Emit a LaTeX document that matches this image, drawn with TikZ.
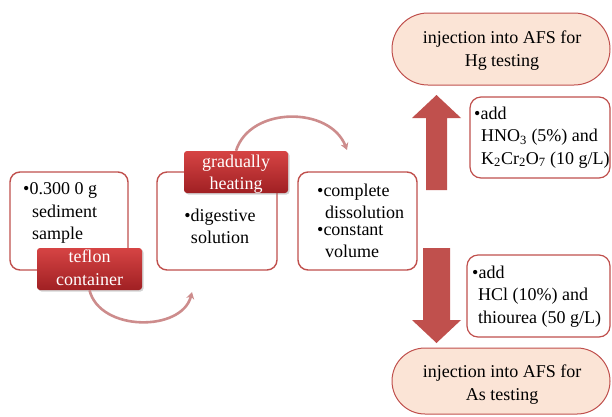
\documentclass[tikz,border=0pt]{standalone}
\usepackage{fontspec}
\setmainfont{Liberation Serif}
\usetikzlibrary{shadows,arrows.meta}
\definecolor{boxred}{RGB}{192,80,77}
\definecolor{peach}{RGB}{251,228,214}
\definecolor{labtop}{RGB}{214,68,68}
\definecolor{labbot}{RGB}{160,32,35}
\definecolor{curvecol}{RGB}{205,140,140}
\tikzset{
  stepbox/.style={draw=boxred, line width=1.4pt, fill=white, rounded corners=10pt, inner sep=0pt},
  notebox/.style={draw=boxred, line width=1.2pt, fill=white, rounded corners=11pt, inner sep=0pt},
  pill/.style={draw=boxred, line width=1pt, fill=peach, rounded corners=33pt, inner sep=0pt},
  labelbox/.style={top color=labtop, bottom color=labbot, draw=none, rounded corners=3pt, inner sep=0pt,
     drop shadow={opacity=0.35, shadow xshift=1.5pt, shadow yshift=-1.5pt}},
  txt/.style={inner sep=0pt, font=\fontsize{18}{22.5}\selectfont},
  wtxt/.style={txt, text=white},
  blockarrow/.style={fill=boxred, draw=none},
  curved/.style={draw=curvecol, line width=2.6pt, -{Stealth[length=7pt,width=8pt]}}
}
\begin{document}
\begin{tikzpicture}[x=1pt,y=-1pt]
\useasboundingbox (0,0) rectangle (612,416);
% step boxes
\node[stepbox, minimum width=118pt, minimum height=98pt] (b1) at (69,221) {};
\node[stepbox, minimum width=120pt, minimum height=98pt] (b2) at (217,221) {};
\node[stepbox, minimum width=119pt, minimum height=98pt] (b3) at (357.5,221) {};
\node[txt, anchor=north west, align=left] (t1) at (23,182.7) {•0.300 0 g\\\hspace*{9pt}sediment\\\hspace*{9pt}sample};
\node[txt, anchor=north, align=center] (t2) at (220,208.7) {•digestive\\solution};
\node[txt, anchor=north west, align=left] (t3) at (317,183.7) {•complete\\\hspace*{8pt}dissolution\\[-6pt]•constant\\\hspace*{8pt}volume};
% labels
\node[labelbox, minimum width=104pt, minimum height=42pt] (heat) at (236,172) {};
\node[wtxt, anchor=north, align=center] (heattxt) at (236,154.7) {gradually\\heating};
\node[labelbox, minimum width=105pt, minimum height=42pt] (tef) at (89.5,269) {};
\node[wtxt, anchor=north, align=center] (teftxt) at (89.5,249.7) {teflon\\container};
% curved arrows
\coordinate (e1) at (347,150);
\coordinate (e2) at (192,292);
\draw[curved] (heat.north) .. controls (250,106) and (330,106) .. (e1);
\draw[curved] (tef.south) .. controls (100,332) and (182,332) .. (e2);
% block arrows
\fill[blockarrow] (426,190) -- (426,118) -- (412,118) -- (436.5,95) -- (461,118) -- (447,118) -- (447,190) -- cycle;
\fill[blockarrow] (423,248) -- (450,248) -- (450,320) -- (461,320) -- (436.5,343) -- (412,320) -- (423,320) -- cycle;
% pills
\node[pill, minimum width=218pt, minimum height=72pt, rounded corners=36pt] (p1) at (501,49) {};
\node[txt, anchor=north, align=center] (p1t) at (502,30.7) {injection into AFS for\\Hg testing};
\node[pill, minimum width=218pt, minimum height=66pt] (p2) at (501,381) {};
\node[txt, anchor=north, align=center] (p2t) at (502,364.7) {injection into AFS for\\As testing};
% note boxes
\node[notebox, minimum width=140pt, minimum height=81pt] (n1) at (540,137.5) {};
\node[txt, anchor=north west, align=left] (n1t) at (474,106.7) {•add\\\hspace*{7pt}HNO\textsubscript{3} (5\%) and\\\hspace*{7pt}K\textsubscript{2}Cr\textsubscript{2}O\textsubscript{7} (10 g/L)};
\node[notebox, minimum width=143pt, minimum height=82pt] (n2) at (538.5,296) {};
\node[txt, anchor=north west, align=left] (n2t) at (472,265.7) {•add\\\hspace*{6pt}HCl (10\%) and\\\hspace*{6pt}thiourea (50 g/L)};
\end{tikzpicture}
\end{document}
